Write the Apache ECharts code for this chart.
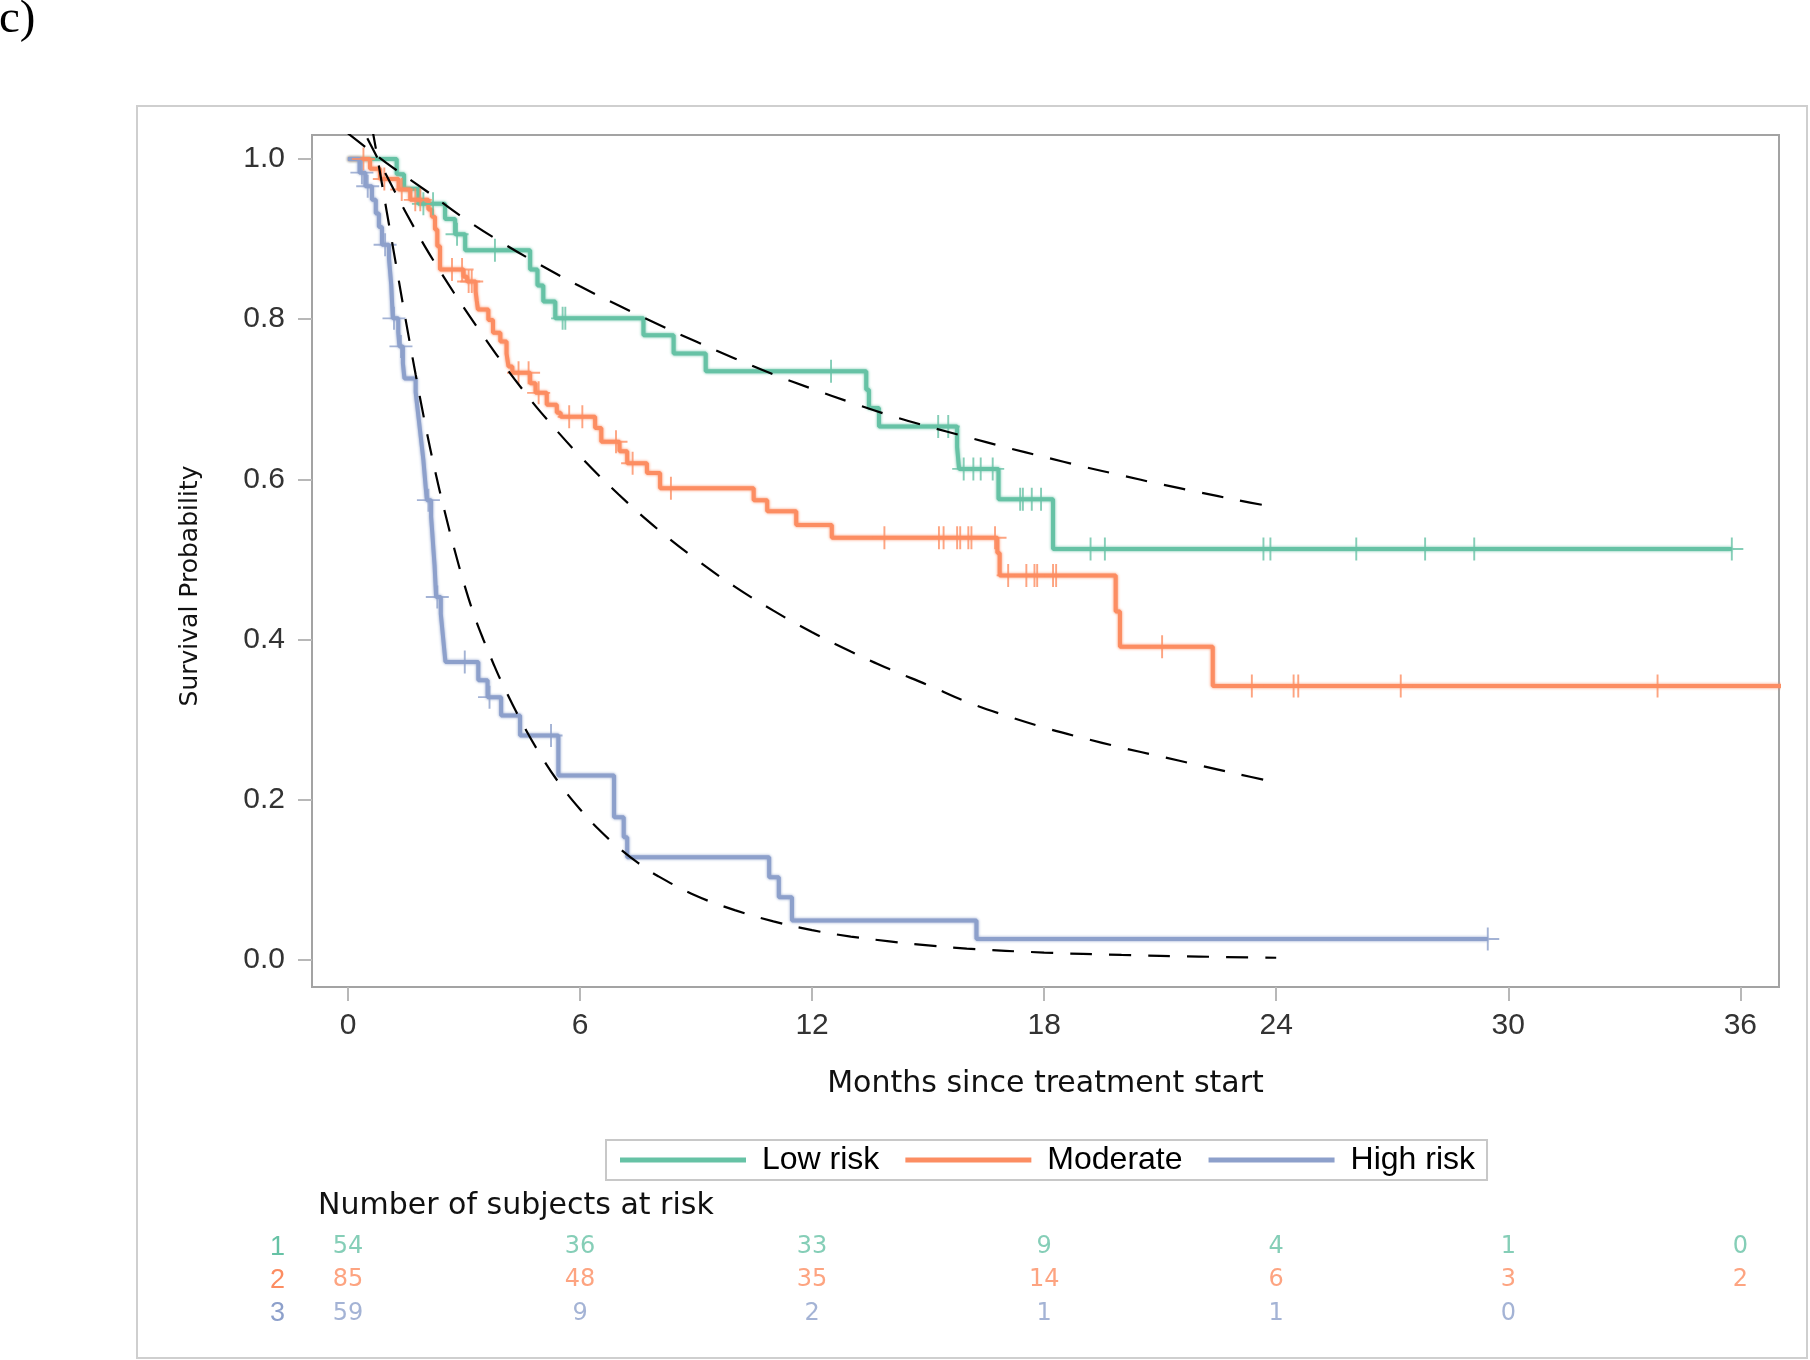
<!DOCTYPE html>
<html><head><meta charset="utf-8">
<script src="https://cdn.jsdelivr.net/npm/echarts@6/dist/echarts.min.js"></script>
<style>html,body{margin:0;padding:0;background:#fff}#c{width:1810px;height:1360px}</style>
</head><body><div id="c"></div>
<script>
// ---------- data ----------
const groupNames = ['Low risk', 'Moderate', 'High risk'];
const monthTicks = [0, 6, 12, 18, 24, 30, 36];
const probTicks = [0, 0.2, 0.4, 0.6, 0.8, 1.0];
const riskRowLabels = ['1', '2', '3'];
const atRiskLow = [54, 36, 33, 9, 4, 1, 0];
const atRiskMod = [85, 48, 35, 14, 6, 3, 2];
const atRiskHigh = [59, 9, 2, 1, 1, 0];

// Kaplan-Meier step functions (time in months, survival after that time)
const lowTimes = [0, 1.26, 1.45, 1.82, 2.51, 2.77, 3.03, 4.71, 4.90, 5.05, 5.36, 7.64, 8.42, 9.25, 13.40, 13.47, 13.73, 15.75, 15.80, 16.82, 18.23, 35.78];
const lowSurv  = [1, 0.981, 0.963, 0.944, 0.925, 0.906, 0.886, 0.862, 0.842, 0.822, 0.801, 0.780, 0.757, 0.735, 0.712, 0.689, 0.666, 0.640, 0.613, 0.575, 0.513, 0.513];
const lowCensored = [1.95, 2.2, 2.82, 3.8, 5.55, 5.62, 12.49, 15.26, 15.52, 15.92, 16.17, 16.36, 16.67, 17.38, 17.45, 17.68, 17.92, 19.2, 19.57, 23.67, 23.85, 26.07, 27.85, 29.12, 35.78];

const modTimes = [0, 0.57, 0.83, 1.31, 1.61, 2.08, 2.17, 2.25, 2.31, 2.38, 2.99, 3.08, 3.30, 3.33, 3.36, 3.63, 3.75, 3.94, 4.10, 4.15, 4.25, 4.71, 4.85, 5.14, 5.40, 5.50, 6.39, 6.55, 7.02, 7.22, 7.73, 8.07, 10.49, 10.84, 11.59, 12.51, 16.79, 16.85, 19.85, 19.96, 22.36, 37.5];
const modSurv  = [1, 0.988, 0.975, 0.962, 0.949, 0.937, 0.928, 0.912, 0.891, 0.862, 0.853, 0.847, 0.835, 0.823, 0.812, 0.799, 0.783, 0.772, 0.757, 0.741, 0.733, 0.720, 0.708, 0.693, 0.683, 0.678, 0.664, 0.647, 0.635, 0.620, 0.608, 0.589, 0.574, 0.560, 0.543, 0.527, 0.508, 0.480, 0.435, 0.391, 0.342, 0.342];
const modCensored = [0.40, 0.94, 1.39, 1.74, 1.87, 2.69, 2.95, 3.12, 3.20, 4.41, 4.67, 4.93, 5.72, 6.06, 6.93, 7.36, 8.35, 13.87, 15.28, 15.40, 15.75, 15.83, 16.04, 16.12, 16.73, 17.07, 17.54, 17.75, 17.82, 18.23, 18.31, 21.05, 23.37, 24.45, 24.57, 27.22, 33.86];

const highTimes = [0, 0.30, 0.45, 0.62, 0.72, 0.80, 0.88, 1.06, 1.09, 1.12, 1.14, 1.16, 1.30, 1.33, 1.42, 1.46, 1.75, 1.79, 1.83, 1.87, 1.91, 1.95, 1.98, 2.01, 2.04, 2.15, 2.18, 2.21, 2.24, 2.26, 2.28, 2.40, 2.44, 2.48, 2.52, 3.37, 3.61, 3.96, 4.45, 5.44, 6.88, 7.13, 7.22, 10.89, 11.14, 11.48, 16.25, 29.47];
const highSurv  = [1, 0.983, 0.966, 0.949, 0.932, 0.915, 0.893, 0.876, 0.859, 0.842, 0.821, 0.801, 0.784, 0.766, 0.745, 0.726, 0.709, 0.692, 0.675, 0.658, 0.641, 0.624, 0.607, 0.590, 0.574, 0.553, 0.533, 0.512, 0.492, 0.472, 0.453, 0.432, 0.412, 0.392, 0.372, 0.349, 0.328, 0.305, 0.280, 0.230, 0.178, 0.153, 0.128, 0.103, 0.078, 0.049, 0.026, 0.026];
const highCensored = [0.36, 0.51, 0.96, 1.19, 1.37, 2.08, 2.31, 3.02, 3.66, 5.25, 29.47];

// Fitted (parametric) curves
const lowFitT = [0, 1, 2, 3, 4, 5, 6, 7, 8, 9, 10, 11, 12, 13, 14, 15, 16, 17, 18, 19, 20, 21, 22, 23, 24];
const lowFitS = [1.032, 0.995, 0.961, 0.926, 0.895, 0.867, 0.841, 0.817, 0.794, 0.772, 0.751, 0.731, 0.713, 0.696, 0.680, 0.666, 0.653, 0.640, 0.628, 0.616, 0.605, 0.594, 0.584, 0.574, 0.565];
const modFitT = [0.5, 1, 1.5, 2, 2.5, 3, 3.5, 4, 4.5, 5, 6, 7, 8, 9, 10, 11, 12, 13, 14, 15, 16, 17, 18, 19, 20, 21, 22, 23, 24];
const modFitS = [1.026, 0.979, 0.933, 0.890, 0.851, 0.814, 0.779, 0.745, 0.713, 0.683, 0.629, 0.581, 0.538, 0.500, 0.466, 0.436, 0.409, 0.385, 0.363, 0.343, 0.322, 0.305, 0.290, 0.277, 0.265, 0.254, 0.243, 0.232, 0.2215];
const highFitT = [0.62, 0.75, 1.0, 1.25, 1.5, 1.75, 2.0, 2.25, 2.5, 2.75, 3.0, 3.25, 3.5, 3.75, 4.0, 4.5, 5.0, 5.5, 6.0, 6.5, 7.0, 7.5, 8.0, 9.0, 10, 11, 12, 13, 14, 15, 16, 18, 20, 22, 24];
const highFitS = [1.04, 1.005, 0.935, 0.866, 0.797, 0.731, 0.668, 0.611, 0.560, 0.513, 0.470, 0.432, 0.400, 0.371, 0.344, 0.296, 0.254, 0.218, 0.188, 0.162, 0.140, 0.121, 0.105, 0.080, 0.062, 0.048, 0.037, 0.029, 0.023, 0.018, 0.014, 0.009, 0.006, 0.004, 0.0025];

// ---------- style ----------
const COLORS = ['#66c2a5', '#fc8d62', '#8da0cb'];
const PLUS = 'path://M11,0L13,0L13,24L11,24ZM0,11L24,11L24,13L0,13Z';
const XMIN = -0.93, XMAX = 37.0, YMIN = -0.034, YMAX = 1.030;

function pairs(xs, ys) { return xs.map((x, i) => [x, ys[i]]); }
function survAt(times, surv, t) {
  let s = surv[0];
  for (let i = 0; i < times.length; i++) { if (times[i] <= t) s = surv[i]; else break; }
  return s;
}

const km = [[lowTimes, lowSurv, lowCensored], [modTimes, modSurv, modCensored], [highTimes, highSurv, highCensored]];
const fits = [[lowFitT, lowFitS], [modFitT, modFitS], [highFitT, highFitS]];
const atRisk = [atRiskLow, atRiskMod, atRiskHigh];

const series = [];
km.forEach((g, k) => {
  series.push({
    name: groupNames[k], type: 'line', step: 'end', data: pairs(g[0], g[1]),
    showSymbol: false, symbol: 'none', z: 3, clip: true,
    color: COLORS[k],
    lineStyle: { color: COLORS[k], width: 4, shadowColor: COLORS[k], shadowBlur: 3 }
  });
});
km.forEach((g, k) => {
  series.push({
    name: groupNames[k] + ' censored', type: 'scatter', z: 4,
    data: g[2].map(t => [t, survAt(g[0], g[1], t)]),
    symbol: PLUS, symbolSize: 23, itemStyle: { color: COLORS[k] }, clip: true
  });
});
fits.forEach((f, k) => {
  series.push({
    name: groupNames[k] + ' fit', type: 'line', data: pairs(f[0], f[1]),
    smooth: 0.4, showSymbol: false, symbol: 'none', z: 5, clip: true,
    lineStyle: { color: '#000', width: 2.2, type: [22, 17], cap: 'butt' }
  });
});
atRisk.forEach((arr, k) => {
  series.push({
    name: 'atrisk' + k, type: 'scatter', xAxisIndex: 1, yAxisIndex: 1,
    data: arr.map((v, i) => [monthTicks[i], riskRowLabels[k], v]),
    symbolSize: 1, itemStyle: { color: 'rgba(0,0,0,0)' },
    label: { show: true, position: 'inside', formatter: p => String(p.value[2]),
      color: COLORS[k], fontFamily: 'DejaVu Sans', fontSize: 24 }
  });
});

const chart = echarts.init(document.getElementById('c'), null, { renderer: 'canvas' });
chart.setOption({
  animation: false,
  backgroundColor: '#fff',
  grid: [
    { left: 312, top: 135, right: 31, height: 852, show: true, borderColor: '#a3a3a3', borderWidth: 2, backgroundColor: 'transparent', containLabel: false },
    { left: 312, top: 1230.5, right: 31, height: 99.5, containLabel: false }
  ],
  xAxis: [
    { type: 'value', gridIndex: 0, min: XMIN, max: XMAX,
      axisLine: { show: false, onZero: false }, splitLine: { show: false },
      axisTick: { show: true, length: 14, customValues: monthTicks, lineStyle: { color: '#b8b8b8', width: 2 } },
      axisLabel: { customValues: monthTicks, margin: 24, fontFamily: 'Liberation Sans', fontSize: 30, color: '#333' },
      name: 'Months since treatment start', nameLocation: 'middle', nameGap: 82,
      nameTextStyle: { fontFamily: 'DejaVu Sans', fontSize: 30, color: '#111' } },
    { type: 'value', gridIndex: 1, min: XMIN, max: XMAX, show: false, axisLine: { onZero: false } }
  ],
  yAxis: [
    { type: 'value', gridIndex: 0, min: YMIN, max: YMAX,
      axisLine: { show: false, onZero: false }, splitLine: { show: false },
      axisTick: { show: true, length: 14, customValues: probTicks, lineStyle: { color: '#b8b8b8', width: 2 } },
      axisLabel: { customValues: probTicks, formatter: v => Number(v).toFixed(1), margin: 27, fontFamily: 'Liberation Sans', fontSize: 30, color: '#333' } },
    { type: 'category', gridIndex: 1, data: riskRowLabels, inverse: true,
      axisLine: { show: false, onZero: false }, axisTick: { show: false }, splitLine: { show: false },
      axisLabel: { interval: 0, margin: 27, fontFamily: 'Liberation Sans', fontSize: 27,
        color: v => COLORS[riskRowLabels.indexOf(String(v))] } }
  ],
  legend: {
    data: groupNames, left: 606, top: 1140, orient: 'horizontal', icon: 'rect',
    itemWidth: 126, itemHeight: 5, itemGap: 26, padding: [4, 12, 4, 14],
    borderColor: '#c8c8c8', borderWidth: 2, selectedMode: false,
    textStyle: { fontFamily: 'Liberation Sans', fontSize: 32, color: '#000', padding: [0, 0, 0, 11] }
  },
  graphic: [
    { type: 'rect', shape: { x: 137, y: 106, width: 1670, height: 1252 }, style: { fill: 'none', stroke: '#cfcfcf', lineWidth: 2 }, z: -1 },
    { type: 'text', x: -1, y: 20, style: { text: 'c)', font: '47px "Liberation Serif"', fill: '#000', textAlign: 'left', textVerticalAlign: 'middle' } },
    { type: 'text', x: 190, y: 586, rotation: Math.PI / 2, style: { text: 'Survival Probability', font: '25px "DejaVu Sans"', fill: '#111', textAlign: 'center', textVerticalAlign: 'middle' } },
    { type: 'text', x: 318, y: 1206, style: { text: 'Number of subjects at risk', font: '30px "DejaVu Sans"', fill: '#111', textAlign: 'left', textVerticalAlign: 'middle' } }
  ],
  series: series
});
</script></body></html>
